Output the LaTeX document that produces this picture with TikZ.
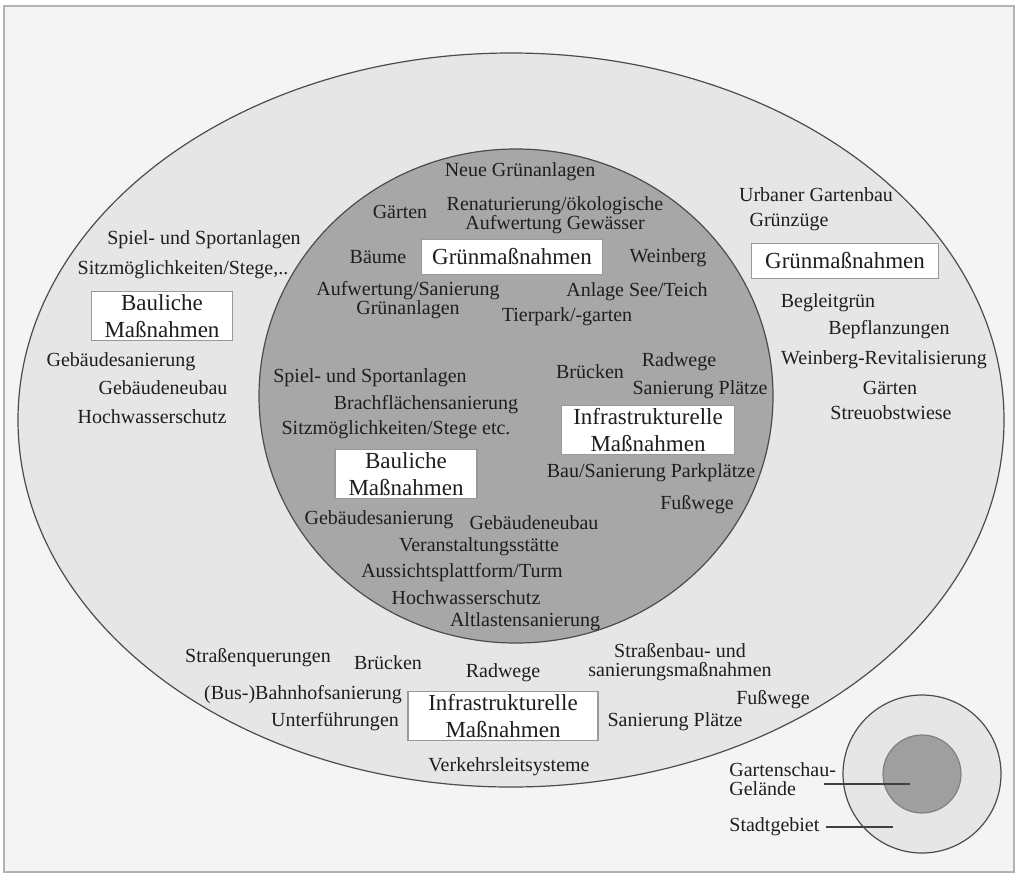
\documentclass[tikz,border=0pt]{standalone}
\usepackage{fontspec}
\setmainfont{Liberation Serif}
\definecolor{framebg}{HTML}{F4F4F4}
\definecolor{cityring}{HTML}{E6E6E6}
\definecolor{gardenarea}{HTML}{A7A7A7}
\definecolor{inktext}{HTML}{1E1E1E}
\newcommand{\itemfont}{\fontsize{10}{9.5}\selectfont}
\newcommand{\boxfont}{\fontsize{11.5}{13.5}\selectfont}
\newcommand{\mass}[4]{
	\node[item] (#1) at (#2,#3) {#4};
	}
\newcommand{\massbox}[5]{
	\node[mbox, minimum width=#2] (#1) at (#3,#4) {#5};
	}

\begin{document}
\begin{tikzpicture}[
      x=0.5pt, y=-0.5pt, %one unit = one pixel of the 1020x878 page
      item/.style={font=\itemfont, text=inktext, inner sep=1pt, align=center},
      mbox/.style={draw=gray!80, line width=0.6pt, fill=white, font=\boxfont, text=inktext,
                   align=center, inner xsep=3pt, inner ysep=1.5pt, minimum height=17.5pt},
      area/.style={draw=black!70, line width=0.6pt},
      pointer/.style={draw=black!75, line width=0.6pt}
    ]
    \useasboundingbox (0,0) rectangle (1020,878);
    %frame
    \draw[fill=framebg, draw=gray!60, line width=0.8pt] (4,6) rectangle (1014,872);
    % Draw the two areas
    \draw[area, fill=cityring] (511,420) ellipse [x radius=493, y radius=367];
    \draw[area, fill=gardenarea] (516,396) ellipse [x radius=257, y radius=247];
    % Stadtgebiet: bauliche Massnahmen
    \mass{oSpiel}{204}{240}{Spiel- und Sportanlagen};
    \mass{oSitz}{183}{270}{Sitzmöglichkeiten/Stege,..};
    \massbox{oBau}{70.5pt}{162}{316}{Bauliche\\Maßnahmen};
    \mass{oGSan}{121}{362}{Gebäudesanierung};
    \mass{oGNeu}{163}{388}{Gebäudeneubau};
    \mass{oHWS}{152}{417}{Hochwasserschutz};
    % Gartenschau: Gruenmassnahmen
    \mass{iNeue}{520}{172}{Neue Grünanlagen};
    \mass{iGaert}{400}{212}{Gärten};
    \mass{iRenat}{555}{215}{Renaturierung/ökologische\\Aufwertung Gewässer};
    \mass{iBaeume}{378}{257}{Bäume};
    \massbox{iGruen}{90.5pt}{512}{257}{Grünmaßnahmen};
    \mass{iWein}{668}{258}{Weinberg};
    \mass{iAufw}{408}{300}{Aufwertung/Sanierung\\Grünanlagen};
    \mass{iSee}{637}{292}{Anlage See/Teich};
    \mass{iTier}{567}{317}{Tierpark/-garten};
    % Stadtgebiet: Gruenmassnahmen
    \mass{oUrban}{816}{195}{Urbaner Gartenbau};
    \mass{oGZug}{789}{222}{Grünzüge};
    \massbox{oGruen}{93.5pt}{845}{261}{Grünmaßnahmen};
    \mass{oBegl}{828}{303}{Begleitgrün};
    \mass{oBepf}{889}{330}{Bepflanzungen};
    \mass{oWRev}{884}{360}{Weinberg-Revitalisierung};
    \mass{oGaert}{890}{388}{Gärten};
    \mass{oStreu}{891}{413}{Streuobstwiese};
    % Gartenschau: bauliche und infrastrukturelle Massnahmen
    \mass{iBrueck}{590}{372}{Brücken};
    \mass{iRad}{679}{362}{Radwege};
    \mass{iSpiel}{370}{378}{Spiel- und Sportanlagen};
    \mass{iSanPl}{700}{390}{Sanierung Plätze};
    \mass{iBrach}{426}{405}{Brachflächensanierung};
    \massbox{iInfra}{86.5pt}{648}{430}{Infrastrukturelle\\Maßnahmen};
    \mass{iSitz}{396}{430}{Sitzmöglichkeiten/Stege etc.};
    \massbox{iBau}{71pt}{406}{474}{Bauliche\\Maßnahmen};
    \mass{iPark}{651}{473}{Bau/Sanierung Parkplätze};
    \mass{iFuss}{697}{505}{Fußwege};
    \mass{iGSan}{379}{520}{Gebäudesanierung};
    \mass{iGNeu}{534}{523}{Gebäudeneubau};
    \mass{iVer}{479}{547}{Veranstaltungsstätte};
    \mass{iAus}{462}{573}{Aussichtsplattform/Turm};
    \mass{iHWS}{466}{598}{Hochwasserschutz};
    \mass{iAlt}{525}{622}{Altlastensanierung};
    % Stadtgebiet: infrastrukturelle Massnahmen
    \mass{oStrQ}{258}{658}{Straßenquerungen};
    \mass{oBrueck}{388}{663}{Brücken};
    \mass{oRad}{503}{673}{Radwege};
    \mass{oStrBau}{680}{662}{Straßenbau- und\\sanierungsmaßnahmen};
    \mass{oBahn}{303}{695}{(Bus-)Bahnhofsanierung};
    \massbox{oInfra}{95pt}{503}{716}{Infrastrukturelle\\Maßnahmen};
    \mass{oFuss}{773}{700}{Fußwege};
    \mass{oUnter}{335}{722}{Unterführungen};
    \mass{oSanPl}{675}{722}{Sanierung Plätze};
    \mass{oVerk}{509}{767}{Verkehrsleitsysteme};
    % Draw the legend
    \coordinate (legc) at (922,774);
    \draw[area, fill=cityring] (legc) circle [radius=79];
    \draw[area, draw=black!50, fill=gardenarea!95!black] (legc) circle [radius=39];
    \node[item, anchor=west, align=left] (lgGS) at (727,779) {Gartenschau-\\Gelände};
    \node[item, anchor=west] (lgSG) at (727,827) {Stadtgebiet};
    \coordinate (gsin) at (910,0);
    \coordinate (sgin) at (893,0);
    \draw[pointer] ([xshift=-7pt, yshift=-2.5pt]lgGS.east) -- ([yshift=-2.5pt]lgGS.east -| gsin);
    \draw[pointer] ([xshift=2pt]lgSG.east) -- (lgSG.east -| sgin);
\end{tikzpicture}
\end{document}
